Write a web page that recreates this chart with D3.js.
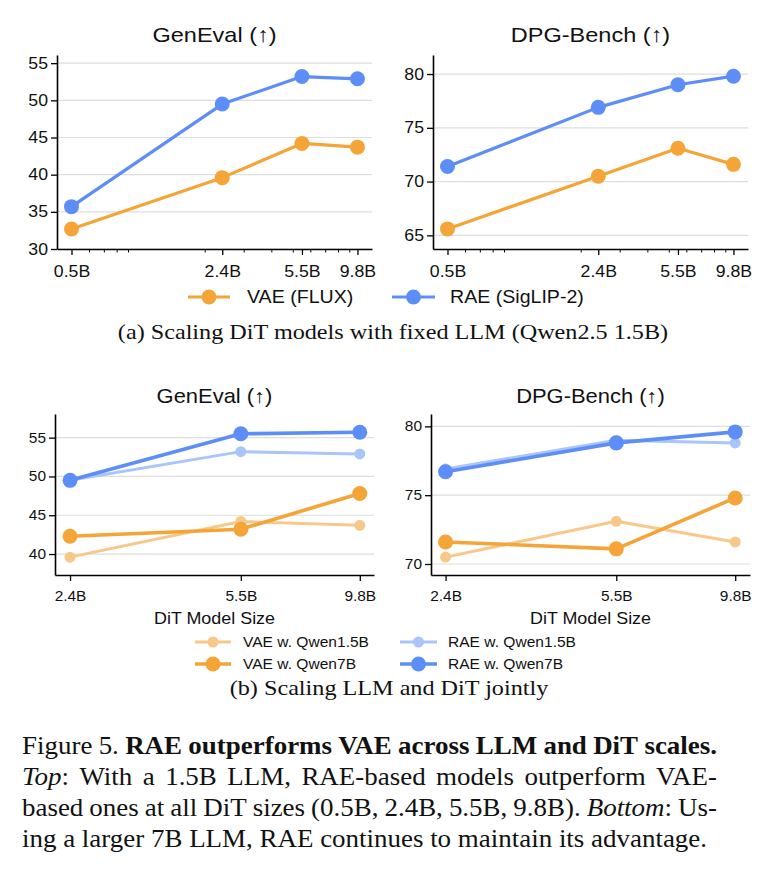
<!DOCTYPE html>
<html><head><meta charset="utf-8">
<script src="https://cdn.jsdelivr.net/npm/d3@7"></script>
<style>body{margin:0;background:#fff} svg{display:block}</style>
</head><body>
<svg id="fig" width="777" height="881"></svg>
<script>
// ---------------- DATA ----------------
const topSizes = [0.5, 2.4, 5.5, 9.8];
const topSizeLabels = ["0.5B", "2.4B", "5.5B", "9.8B"];
const topMinorTicks = [0.6, 0.7, 0.8, 0.9, 2, 3, 4, 5, 6, 7, 8, 9];
const topGenEvalVAE = [32.7, 39.6, 44.2, 43.7];
const topGenEvalRAE = [35.7, 49.5, 53.2, 52.9];
const topDPGVAE = [65.6, 70.5, 73.1, 71.6];
const topDPGRAE = [71.4, 76.9, 79.0, 79.8];
const topGenEvalTicks = [30, 35, 40, 45, 50, 55];
const topDPGTicks = [65, 70, 75, 80];

const botSizes = [2.4, 5.5, 9.8];
const botSizeLabels = ["2.4B", "5.5B", "9.8B"];
const botGenEvalVAE15 = [39.6, 44.2, 43.7];
const botGenEvalVAE7 = [42.3, 43.2, 47.8];
const botGenEvalRAE15 = [49.5, 53.2, 52.9];
const botGenEvalRAE7 = [49.5, 55.5, 55.7];
const botDPGVAE15 = [70.5, 73.1, 71.6];
const botDPGVAE7 = [71.6, 71.1, 74.8];
const botDPGRAE15 = [76.9, 79.0, 78.8];
const botDPGRAE7 = [76.7, 78.8, 79.6];
const botGenEvalTicks = [40, 45, 50, 55];
const botDPGTicks = [70, 75, 80];

const topLegendLabels = ["VAE (FLUX)", "RAE (SigLIP-2)"];
const botLegendLabels = ["VAE w. Qwen1.5B", "VAE w. Qwen7B", "RAE w. Qwen1.5B", "RAE w. Qwen7B"];
const titles = ["GenEval (\u2191)", "DPG-Bench (\u2191)"];
const xLabelText = "DiT Model Size";
const captionA = "(a) Scaling DiT models with fixed LLM (Qwen2.5 1.5B)";
const captionB = "(b) Scaling LLM and DiT jointly";
const figCaption = [
  [{t: "Figure 5. ", s: ""}, {t: "RAE outperforms VAE across LLM and DiT scales.", s: "b"}],
  [{t: "Top", s: "i"}, {t: ":  With a 1.5B LLM, RAE-based models outperform VAE-", s: ""}],
  [{t: "based ones at all DiT sizes (0.5B, 2.4B, 5.5B, 9.8B). ", s: ""}, {t: "Bottom", s: "i"}, {t: ": Us-", s: ""}],
  [{t: "ing a larger 7B LLM, RAE continues to maintain its advantage.", s: ""}]
];

// ---------------- STYLE ----------------
const SANS = "'Liberation Sans', Arial, Helvetica, sans-serif";
const SERIF = "'Liberation Serif', 'Times New Roman', Times, serif";
const SX = 1.12;      // horizontal stretch of chart text
const SXC = 1.1;      // horizontal stretch of caption text
const ORANGE = "#F5A437", BLUE = "#5D8EF7";
const LORANGE = "#F8C88A", LBLUE = "#A9C5FA";

const svg = d3.select("#fig");

function stext(g, x, y, str, o) {
  return g.append("text")
    .attr("transform", `translate(${x},${y}) scale(${o.sx || SX},1)`)
    .attr("font-family", o.family || SANS)
    .attr("font-size", o.fs)
    .attr("text-anchor", o.anchor || "start")
    .attr("fill", "#111")
    .text(str);
}

function panel(c) {
  const g = svg.append("g");
  const x = d3.scaleLog().domain(c.xDomain).range([c.x0, c.x1]);
  const y = d3.scaleLinear().domain(c.yDomain).range([c.y1, c.y0]);
  g.append("g").selectAll("line").data(c.yTicks).join("line")
    .attr("x1", c.x0).attr("x2", c.x1)
    .attr("y1", d => y(d)).attr("y2", d => y(d))
    .attr("stroke", "#dedede").attr("stroke-width", 1.2);
  const line = d3.line().x((d, i) => x(c.xVals[i])).y(d => y(d));
  c.series.forEach(s => {
    g.append("path").datum(s.values).attr("d", line)
      .attr("fill", "none").attr("stroke", s.color).attr("stroke-width", s.lw)
      .attr("stroke-linejoin", "round");
    g.append("g").selectAll("circle").data(s.values).join("circle")
      .attr("cx", (d, i) => x(c.xVals[i])).attr("cy", d => y(d))
      .attr("r", s.r).attr("fill", s.color);
  });
  const pad = 3, tl = 6;
  const ya = g.append("g").attr("transform", `translate(${c.x0},0)`)
    .call(d3.axisLeft(y).tickValues(c.yTicks).tickSize(tl).tickPadding(pad).tickSizeOuter(0).tickFormat(d3.format("d")));
  ya.selectAll("text").attr("x", -(tl + pad) / SX)
    .attr("transform", `scale(${SX},1)`)
    .attr("font-size", c.tickFs).attr("font-family", SANS).attr("fill", "#111");
  const xa = g.append("g").attr("transform", `translate(0,${c.y1})`)
    .call(d3.axisBottom(x).tickValues(c.xVals).tickSize(tl).tickPadding(c.xPad).tickSizeOuter(0)
      .tickFormat((d, i) => c.xLabels[i]));
  xa.selectAll("text").attr("transform", `scale(${SX},1)`)
    .attr("font-size", c.tickFs).attr("font-family", SANS).attr("fill", "#111");
  if (c.minor) {
    const mi = g.append("g").attr("transform", `translate(0,${c.y1})`)
      .call(d3.axisBottom(x).tickValues(c.minor).tickSize(3.5).tickFormat(""));
    mi.select(".domain").remove();
    mi.selectAll("line").attr("stroke-width", 1);
  }
  [ya, xa].forEach(a => {
    a.select(".domain").attr("stroke", "#000").attr("stroke-width", 1.6);
    a.selectAll(".tick line").attr("stroke", "#000").attr("stroke-width", 1.3);
  });
  stext(g, (c.x0 + c.x1) / 2, c.titleY, c.title, {fs: c.titleFs, anchor: "middle"});
  if (c.xlabel) stext(g, (c.x0 + c.x1) / 2, c.xlabelY, c.xlabel, {fs: c.xlabelFs, anchor: "middle"});
}

panel({x0: 57, x1: 372, y0: 55, y1: 249, xDomain: [0.43, 11.4], yDomain: [30, 56.1],
  xVals: topSizes, xLabels: topSizeLabels, minor: topMinorTicks, yTicks: topGenEvalTicks,
  tickFs: 15.8, xPad: 11, title: titles[0], titleY: 42, titleFs: 21,
  series: [{values: topGenEvalVAE, color: ORANGE, r: 7.5, lw: 3.2},
           {values: topGenEvalRAE, color: BLUE, r: 7.5, lw: 3.2}]});
panel({x0: 433, x1: 748, y0: 55, y1: 249, xDomain: [0.43, 11.4], yDomain: [63.73, 81.77],
  xVals: topSizes, xLabels: topSizeLabels, minor: topMinorTicks, yTicks: topDPGTicks,
  tickFs: 15.8, xPad: 11, title: titles[1], titleY: 42, titleFs: 21,
  series: [{values: topDPGVAE, color: ORANGE, r: 7.5, lw: 3.2},
           {values: topDPGRAE, color: BLUE, r: 7.5, lw: 3.2}]});

panel({x0: 55, x1: 374, y0: 414, y1: 575, xDomain: [2.231, 10.5], yDomain: [37.3, 58.05],
  xVals: botSizes, xLabels: botSizeLabels, yTicks: botGenEvalTicks,
  tickFs: 13.8, xPad: 10, title: titles[0], titleY: 403, titleFs: 19.6,
  xlabel: xLabelText, xlabelY: 624, xlabelFs: 16,
  series: [{values: botGenEvalVAE15, color: LORANGE, r: 5.5, lw: 3},
           {values: botGenEvalRAE15, color: LBLUE, r: 5.5, lw: 3},
           {values: botGenEvalVAE7, color: ORANGE, r: 7.5, lw: 3.6},
           {values: botGenEvalRAE7, color: BLUE, r: 7.5, lw: 3.6}]});
panel({x0: 431, x1: 750, y0: 414, y1: 575, xDomain: [2.236, 10.53], yDomain: [69.2, 80.9],
  xVals: botSizes, xLabels: botSizeLabels, yTicks: botDPGTicks,
  tickFs: 13.8, xPad: 10, title: titles[1], titleY: 403, titleFs: 19.6,
  xlabel: xLabelText, xlabelY: 624, xlabelFs: 16,
  series: [{values: botDPGVAE15, color: LORANGE, r: 5.5, lw: 3},
           {values: botDPGRAE15, color: LBLUE, r: 5.5, lw: 3},
           {values: botDPGVAE7, color: ORANGE, r: 7.5, lw: 3.6},
           {values: botDPGRAE7, color: BLUE, r: 7.5, lw: 3.6}]});

function legendItem(x, y, len, color, r, lw, label, fs, gap) {
  const g = svg.append("g");
  g.append("line").attr("x1", x).attr("x2", x + len).attr("y1", y).attr("y2", y)
    .attr("stroke", color).attr("stroke-width", lw);
  g.append("circle").attr("cx", x + len / 2).attr("cy", y).attr("r", r).attr("fill", color);
  stext(g, x + len + gap, y + fs * 0.36, label, {fs: fs});
}
legendItem(188, 297, 42, ORANGE, 7.5, 3.2, topLegendLabels[0], 17.5, 17);
legendItem(392, 297, 43, BLUE, 7.5, 3.2, topLegendLabels[1], 17.5, 15);
legendItem(195, 642, 36, LORANGE, 5.5, 3, botLegendLabels[0], 13.9, 12);
legendItem(195, 664, 36, ORANGE, 7.5, 3.6, botLegendLabels[1], 13.9, 12);
legendItem(400, 642, 37, LBLUE, 5.5, 3, botLegendLabels[2], 13.9, 11);
legendItem(400, 664, 37, BLUE, 7.5, 3.6, botLegendLabels[3], 13.9, 11);

stext(svg, 393, 339, captionA, {fs: 22, family: SERIF, anchor: "middle", sx: SXC});
stext(svg, 389, 695, captionB, {fs: 22, family: SERIF, anchor: "middle", sx: SXC});

// ---- figure caption (justified, drawn in a horizontally stretched group) ----
const CAP_FS = 24.5, CAP_L = 22, CAP_R = 717;
const capY = [754, 785, 816, 847];
const capG = svg.append("g").attr("transform", `scale(${SXC},1)`);
function tokenize(runs) {
  const toks = []; let cur = [];
  runs.forEach(r => {
    r.t.split(" ").forEach((p, i) => {
      if (i > 0 && cur.length) { toks.push(cur); cur = []; }
      if (p) cur.push({t: p, s: r.s});
    });
  });
  if (cur.length) toks.push(cur);
  return toks;
}
function drawTok(tok, x, y) {
  const t = capG.append("text").attr("x", x).attr("y", y)
    .attr("font-family", SERIF).attr("font-size", CAP_FS).attr("fill", "#111");
  tok.forEach(run => {
    t.append("tspan").text(run.t)
      .attr("font-weight", run.s === "b" ? "bold" : "normal")
      .attr("font-style", run.s === "i" ? "italic" : "normal");
  });
  return t;
}
figCaption.forEach((runs, li) => {
  const toks = tokenize(runs);
  const nodes = toks.map(tok => drawTok(tok, 0, capY[li]));
  const widths = nodes.map(n => n.node().getComputedTextLength());
  const total = d3.sum(widths);
  const L = CAP_L / SXC, R = CAP_R / SXC;
  const justify = li < figCaption.length - 1;
  const gap = justify ? (R - L - total) / (toks.length - 1) : CAP_FS * 0.25;
  let x = L;
  nodes.forEach((n, i) => { n.attr("x", x); x += widths[i] + gap; });
});
</script>
</body></html>
